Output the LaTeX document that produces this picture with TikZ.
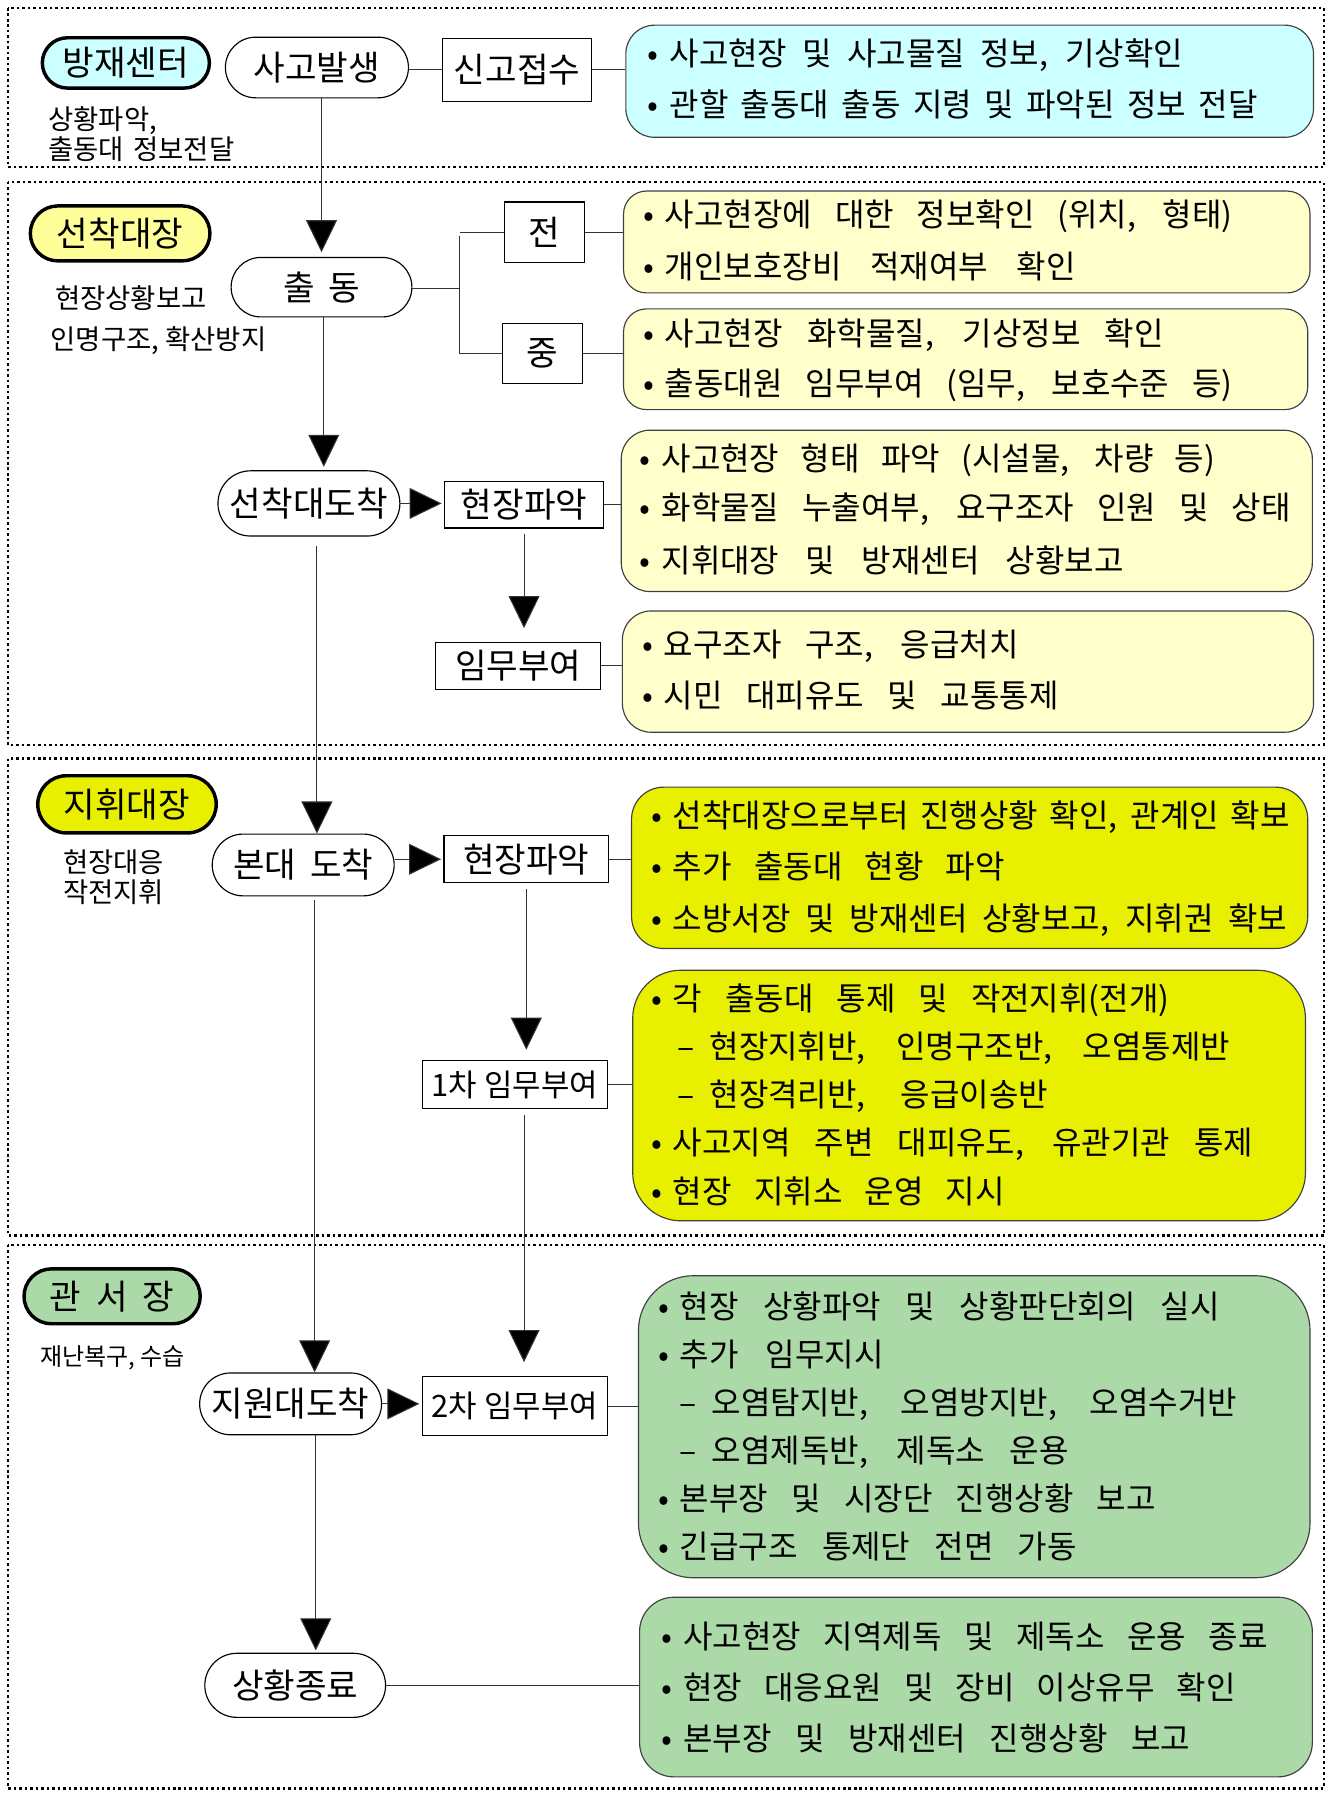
\documentclass[tikz,border=0pt]{standalone}
\usepackage{fontspec}
\setmainfont{Noto Sans CJK KR}
\usetikzlibrary{shapes.misc,arrows.meta,calc}
\definecolor{cyanbox}{RGB}{204,255,255}
\definecolor{lyel}{RGB}{255,255,204}
\definecolor{lyellab}{RGB}{255,255,153}
\definecolor{ybox}{RGB}{232,240,0}
\definecolor{gbox}{RGB}{172,217,168}
\newcommand{\myfs}[1]{\fontsize{#1pt}{#1pt}\selectfont}
\newcommand{\bl}[2]{\makebox[19pt][l]{•}\makebox[#1pt][s]{#2}}
\newcommand{\dl}[2]{\makebox[49pt][l]{\hspace{21pt}–}\makebox[#1pt][s]{#2}}
\begin{document}
\begin{tikzpicture}[x=1pt,y=-1pt,
 sect/.style={draw=black, line width=2.2pt, dash pattern=on 2.2pt off 2.6pt},
 lab/.style={draw=black, line width=3pt, rounded rectangle, inner sep=0pt, font=\myfs{30}},
 proc/.style={draw=black, line width=1pt, rounded rectangle, inner sep=0pt, fill=white, font=\myfs{30}},
 rbox/.style={draw=black, line width=1pt, inner sep=0pt, fill=white, font=\myfs{30}},
 info/.style={draw=black!75, line width=1pt, inner sep=0pt},
 itxt/.style={anchor=base west, inner sep=0pt, font=\myfs{28}},
 sub/.style={anchor=west, inner sep=0pt, align=left},
 conn/.style={draw=black!80, line width=0.9pt},
 arr/.style={conn, -{Triangle[width=27pt,length=28pt,fill=black]}},
]
\useasboundingbox (0,0) rectangle (1164,1568);
\fill[white] (0,0) rectangle (1164,1568);

% sections
\draw[sect] (7,7) rectangle (1157,146);
\draw[sect] (7,159) rectangle (1157,651);
\draw[sect] (7,663) rectangle (1157,1080);
\draw[sect] (7,1088) rectangle (1157,1563);

% role labels
\node[lab, fill=cyanbox, minimum width=146pt, minimum height=44pt] (bj) at (110,55) {방재센터};
\node[lab, fill=lyellab, minimum width=157pt, minimum height=48pt] (sc) at (105,204) {선착대장};
\node[lab, fill=ybox, minimum width=156pt, minimum height=50pt] (jh) at (111,703) {지휘대장};
\node[lab, fill=gbox, minimum width=154pt, minimum height=48pt] (gs) at (98,1133) {관\hspace{13pt}서\hspace{13pt}장};

% sub labels
\node[sub, font={\fontsize{24pt}{26pt}\selectfont}] (s1) at (42,117) {상황파악,\\출동대\hspace{8pt}정보전달};
\node[sub, font={\fontsize{24pt}{36pt}\selectfont}] (s2) at (44,280) {\hspace{4pt}현장상황보고\\인명구조, 확산방지};
\node[sub, font={\fontsize{24pt}{26pt}\selectfont}] (s3) at (55,767) {현장대응\\작전지휘};
\node[sub, font={\fontsize{21pt}{24pt}\selectfont}] (s4) at (35,1187) {재난복구, 수습};

% process pills
\node[proc, minimum width=160pt, minimum height=53pt] (p1) at (277,59) {사고발생};
\node[proc, minimum width=158pt, minimum height=52pt] (p2) at (281,251) {출\hspace{12pt}동};
\node[proc, minimum width=159pt, minimum height=57pt] (p3) at (270,440) {선착대도착};
\node[proc, minimum width=159pt, minimum height=54pt] (p4) at (265,756) {본대\hspace{12pt}도착};
\node[proc, minimum width=159pt, minimum height=54pt] (p5) at (254,1227) {지원대도착};
\node[proc, minimum width=158pt, minimum height=56pt] (p6) at (258,1473) {상황종료};

% rect boxes
\node[rbox, minimum width=130pt, minimum height=55pt] (r1) at (452,61) {신고접수};
\node[rbox, minimum width=70pt, minimum height=53pt] (r2) at (476,203) {전};
\node[rbox, minimum width=70pt, minimum height=53pt] (r3) at (474,309) {중};
\node[rbox, minimum width=139pt, minimum height=41pt] (r4) at (458,441) {현장파악};
\node[rbox, minimum width=144pt, minimum height=41pt] (r5) at (453,582) {임무부여};
\node[rbox, minimum width=144pt, minimum height=41pt] (r6) at (460,751) {현장파악};
\node[rbox, minimum width=162pt, minimum height=42pt, font=\myfs{27}] (r7) at (450,948) {1차 임무부여};
\node[rbox, minimum width=162pt, minimum height=52pt, font=\myfs{27}] (r8) at (450,1229) {2차 임무부여};

% info boxes
\node[info, fill=cyanbox, rounded corners=25pt, minimum width=601pt, minimum height=98pt] (b1) at (847.5,71) {};
\node[info, fill=lyel, rounded corners=20pt, minimum width=600pt, minimum height=89pt] (b2) at (845,211.5) {};
\node[info, fill=lyel, rounded corners=20pt, minimum width=598pt, minimum height=88pt] (b3) at (844,314) {};
\node[info, fill=lyel, rounded corners=25pt, minimum width=604pt, minimum height=141pt] (b4) at (845,446.5) {};
\node[info, fill=lyel, rounded corners=25pt, minimum width=604pt, minimum height=106pt] (b5) at (846,587) {};
\node[info, fill=ybox, rounded corners=28pt, minimum width=591pt, minimum height=141pt] (b6) at (847.5,758.5) {};
\node[info, fill=ybox, rounded corners=42pt, minimum width=588pt, minimum height=219pt] (b7) at (847,957.5) {};
\node[info, fill=gbox, rounded corners=48pt, minimum width=587pt, minimum height=264pt] (b8) at (851.5,1247) {};
\node[info, fill=gbox, rounded corners=30pt, minimum width=588pt, minimum height=157pt] (b9) at (853,1474.5) {};

% info texts
\node[itxt] (t1a) at (566,57) {\bl{449}{사고현장 및 사고물질 정보, 기상확인}};
\node[itxt] (t1b) at (566,102) {\bl{514}{관할 출동대 출동 지령 및 파악된 정보 전달}};

\node[itxt] (t2a) at (562,198) {\bl{496}{사고현장에 대한 정보확인 (위치, 형태)}};
\node[itxt] (t2b) at (562,243) {\bl{359}{개인보호장비 적재여부 확인}};

\node[itxt] (t3a) at (562,302) {\bl{436}{사고현장 화학물질, 기상정보 확인}};
\node[itxt] (t3b) at (562,346) {\bl{496}{출동대원 임무부여 (임무, 보호수준 등)}};

\node[itxt] (t4a) at (559,411) {\bl{484}{사고현장 형태 파악 (시설물, 차량 등)}};
\node[itxt] (t4b) at (559,454) {\bl{550}{화학물질 누출여부, 요구조자 인원 및 상태}};
\node[itxt] (t4c) at (559,500) {\bl{404}{지휘대장 및 방재센터 상황보고}};

\node[itxt] (t5a) at (561,574) {\bl{310}{요구조자 구조, 응급처치}};
\node[itxt] (t5b) at (561,618) {\bl{345}{시민 대피유도 및 교통통제}};

\node[itxt] (t6a) at (569,723) {\bl{539}{선착대장으로부터 진행상황 확인, 관계인 확보}};
\node[itxt] (t6b) at (569,768) {\bl{290}{추가 출동대 현황 파악}};
\node[itxt] (t6c) at (569,813) {\bl{537}{소방서장 및 방재센터 상황보고, 지휘권 확보}};

\node[itxt] (t7a) at (569,883) {\bl{434}{각 출동대 통제 및 작전지휘(전개)}};
\node[itxt] (t7b) at (571,925) {\dl{455}{현장지휘반, 인명구조반, 오염통제반}};
\node[itxt] (t7c) at (571,967) {\dl{296}{현장격리반, 응급이송반}};
\node[itxt] (t7d) at (569,1009) {\bl{507}{사고지역 주변 대피유도, 유관기관 통제}};
\node[itxt] (t7e) at (569,1052) {\bl{290}{현장 지휘소 운영 지시}};

\node[itxt] (t8a) at (575,1152) {\bl{472}{현장 상황파악 및 상황판단회의 실시}};
\node[itxt] (t8b) at (575,1194) {\bl{178}{추가 임무지시}};
\node[itxt] (t8c) at (573,1236) {\dl{459}{오염탐지반, 오염방지반, 오염수거반}};
\node[itxt] (t8d) at (573,1278) {\dl{312}{오염제독반, 제독소 운용}};
\node[itxt] (t8e) at (575,1320) {\bl{416}{본부장 및 시장단 진행상황 보고}};
\node[itxt] (t8f) at (575,1362) {\bl{347}{긴급구조 통제단 전면 가동}};

\node[itxt] (t9a) at (578,1441) {\bl{511}{사고현장 지역제독 및 제독소 운용 종료}};
\node[itxt] (t9b) at (578,1485) {\bl{483}{현장 대응요원 및 장비 이상유무 확인}};
\node[itxt] (t9c) at (578,1530) {\bl{443}{본부장 및 방재센터 진행상황 보고}};

% line coordinates
\coordinate (xA) at (281,0);
\coordinate (xB) at (283,0);
\coordinate (xC) at (277,0);
\coordinate (xD) at (275,0);
\coordinate (xE) at (276,0);
\coordinate (xF) at (458,0);
\coordinate (xG) at (460,0);
\coordinate (xH) at (458,0);
\coordinate (br) at (402,252);

% vertical flow arrows
\draw[arr, shorten >=4pt] (xA |- p1.south) -- (xA |- p2.north);
\draw[arr, shorten >=3pt] (xB |- p2.south) -- (xB |- p3.north);
\draw[arr, shorten <=8pt] (xC |- p3.south) -- (xC |- p4.north);
\draw[arr, shorten <=3pt] (xD |- p4.south) -- (xD |- p5.north);
\draw[arr, shorten >=2pt] (xE |- p5.south) -- (xE |- p6.north);
\draw[arr, shorten <=5pt, shorten >=12pt] (xF |- r4.south) -- (xF |- r5.north);
\draw[arr, shorten <=5pt, shorten >=9pt] (xG |- r6.south) -- (xG |- r7.north);
\draw[arr, shorten <=5pt, shorten >=12pt] (xH |- r7.south) -- (xH |- r8.north);

% horizontal arrows
\draw[arr, shorten >=2pt] (p3.east) -- (p3.east -| r4.west);
\draw[arr, shorten >=2pt] (p4.east |- r6.west) -- (r6.west);
\draw[arr, shorten >=2pt] (p5.east) -- (p5.east -| r8.west);

% plain connectors
\draw[conn] (r1.west -| p1.east) -- (r1.west);
\draw[conn] (r1.east) -- (r1.east -| b1.west);
\draw[conn] (p2.east |- br) -- (br);
\draw[conn] ([yshift=-3pt]br |- r2.west) -- (br |- r3.west);
\draw[conn] (br |- r2.west) -- (r2.west);
\draw[conn] (br |- r3.west) -- (r3.west);
\draw[conn] (r2.east) -- (r2.east -| b2.west);
\draw[conn] (r3.east) -- (r3.east -| b3.west);
\draw[conn] (r4.east) -- (r4.east -| b4.west);
\draw[conn] (r5.east) -- (r5.east -| b5.west);
\draw[conn] (r6.east) -- (r6.east -| b6.west);
\draw[conn] (r7.east) -- (r7.east -| b7.west);
\draw[conn] (r8.east) -- (r8.east -| b8.west);
\draw[conn] (p6.east) -- (p6.east -| b9.west);
\end{tikzpicture}
\end{document}
